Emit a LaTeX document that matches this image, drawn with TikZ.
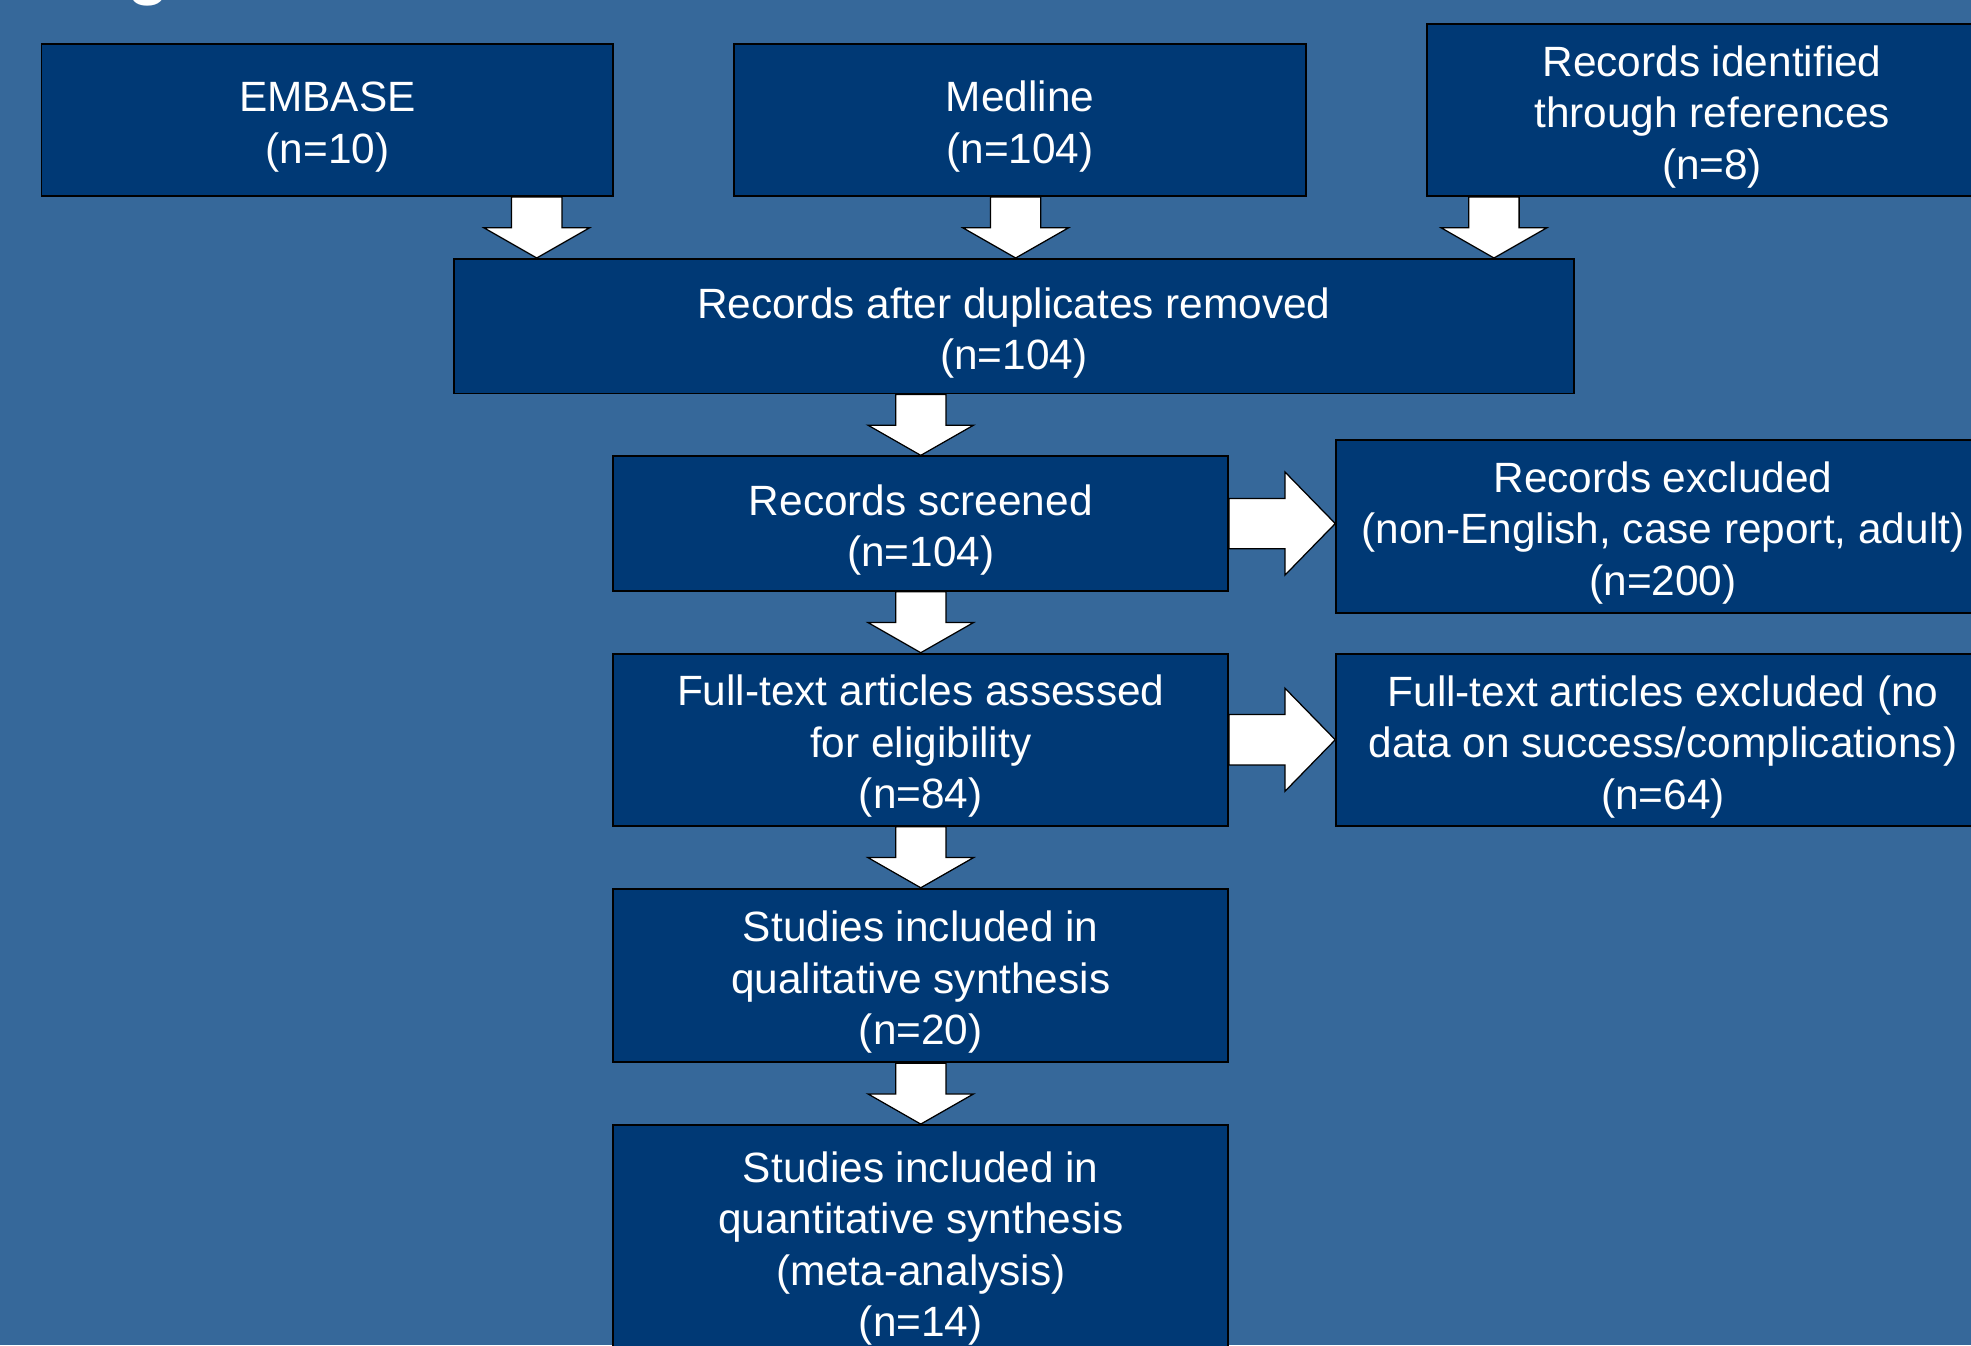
\documentclass[tikz,border=0pt]{standalone}
\usepackage{fontspec}
\setmainfont{Liberation Sans}
\usetikzlibrary{calc}
\definecolor{bgcol}{RGB}{54,104,154}
\definecolor{boxcol}{RGB}{0,57,117}
\newcommand\topstrut{\rule{0pt}{35pt}}
\tikzset{
  flowbox/.style={draw=black, line width=1.5pt, fill=boxcol, text=white, align=center,
    inner sep=0pt, font=\fontsize{33.7}{41}\selectfont},
  barrow/.style={draw=black, line width=1pt, fill=white, line join=miter},
}
\newcommand\dnarrow[2]{%
  \draw[barrow] let \p1=#1, \p2=#2 in
    (\x1-20pt,\y1) -- (\x1+20pt,\y1) -- (\x1+20pt,\y2+24pt) -- (\x1+42pt,\y2+24pt)
    -- (\x1,\y2) -- (\x1-42pt,\y2+24pt) -- (\x1-20pt,\y2+24pt) -- cycle;}
\newcommand\rtarrow[2]{%
  \draw[barrow] let \p1=#1, \p2=#2 in
    (\x1,\y1+20pt) -- (\x2-40pt,\y1+20pt) -- (\x2-40pt,\y1+41pt) -- (\x2,\y1)
    -- (\x2-40pt,\y1-41pt) -- (\x2-40pt,\y1-20pt) -- (\x1,\y1-20pt) -- cycle;}
\begin{document}
\begin{tikzpicture}[x=1pt,y=-1pt]
\useasboundingbox (0,0) rectangle (1568,1070);
\fill[bgcol] (0,0) rectangle (1568,1070);
\node[anchor=base, text=white, font=\bfseries\fontsize{55}{60}\selectfont] (title) at (118,-7) {g};

\node[flowbox, minimum width=455pt, minimum height=121pt] (embase) at (260.5,95.5) {\topstrut EMBASE\\(n=10)};
\node[flowbox, minimum width=455pt, minimum height=121pt] (medline) at (811.5,95.5) {\topstrut Medline\\(n=104)};
\node[flowbox, minimum width=454pt, minimum height=137pt] (refs) at (1362,87.5) {\topstrut Records identified\\through references\\(n=8)};
\node[flowbox, minimum width=891pt, minimum height=107pt] (dup) at (806.5,259.5) {\topstrut Records after duplicates removed\\(n=104)};
\node[flowbox, minimum width=489pt, minimum height=107pt] (screened) at (732.5,416.5) {\topstrut Records screened\\(n=104)};
\node[flowbox, minimum width=520pt, minimum height=137.5pt] (excl1) at (1323,418.7) {\topstrut Records excluded\\(non-English, case report, adult)\\(n=200)};
\node[flowbox, minimum width=489pt, minimum height=137pt] (full) at (732.5,588.5) {\topstrut Full-text articles assessed\\for eligibility\\(n=84)};
\node[flowbox, minimum width=520pt, minimum height=137.5pt] (excl2) at (1323,588.7) {\topstrut Full-text articles excluded (no\\data on success/complications)\\(n=64)};
\node[flowbox, minimum width=489pt, minimum height=138pt] (qual) at (732.5,776) {\topstrut Studies included in\\qualitative synthesis\\(n=20)};
\node[flowbox, minimum width=489pt, minimum height=186pt] (quant) at (732.5,988) {\topstrut Studies included in\\quantitative synthesis\\(meta-analysis)\\(n=14)};

\coordinate (xa) at (427,0);
\coordinate (xb) at (808,0);
\coordinate (xc) at (1188.5,0);

\dnarrow{(embase.south -| xa)}{(dup.north -| xa)}
\dnarrow{(medline.south -| xb)}{(dup.north -| xb)}
\dnarrow{(refs.south -| xc)}{(dup.north -| xc)}
\dnarrow{(dup.south -| screened.north)}{(screened.north)}
\dnarrow{(screened.south)}{(full.north)}
\dnarrow{(full.south)}{(qual.north)}
\dnarrow{(qual.south)}{(quant.north)}
\rtarrow{(screened.east)}{(excl1.west |- screened.east)}
\rtarrow{(full.east)}{(excl2.west |- full.east)}
\end{tikzpicture}
\end{document}
